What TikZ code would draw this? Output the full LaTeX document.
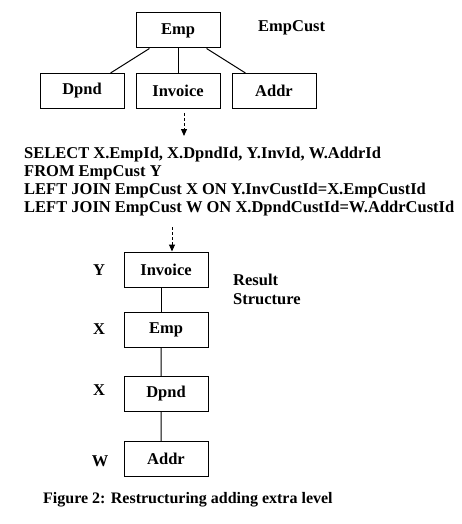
\documentclass[tikz,border=0pt]{standalone}
\usepackage{fontspec}
\setmainfont{Liberation Serif}
\usetikzlibrary{arrows.meta}
\tikzset{
  box/.style={draw, line width=1pt, minimum width=84pt, minimum height=35pt, inner sep=0pt},
  lbl/.style={inner sep=0pt},
  flow/.style={dashed, dash pattern=on 3pt off 2pt, line width=1pt, -{Triangle[length=7pt,width=6pt]}}
}
\begin{document}
\begin{tikzpicture}[x=1pt,y=1pt,font=\fontsize{16.5}{18}\selectfont\bfseries,edge from parent/.style={draw,line width=1pt}]
\useasboundingbox (0,0) rectangle (462,-524);
% source table
\node[box] (emp) at (178,-30.5) {Emp}
 [sibling distance=96pt, level distance=60.5pt]
 child { node[box] (dpnd) {Dpnd} }
 child { node[box] (inv) {Invoice} }
 child { node[box] (addr) {Addr} };
\node[lbl, anchor=base west] (tbl) at (258,-31.7) {EmpCust};
% query
\node[lbl, anchor=north west, inner ysep=11pt, align=left] (sql) at (24,-136)
 {SELECT X.EmpId, X.DpndId, Y.InvId, W.AddrId\\
  FROM EmpCust Y\\
  LEFT JOIN EmpCust X ON Y.InvCustId=X.EmpCustId\\
  LEFT JOIN EmpCust W ON X.DpndCustId=W.AddrCustId};
\draw[flow] ([xshift=6pt,yshift=-4pt]inv.south) -- ([xshift=6pt]inv.south |- sql.north);
% result
\node[box] (rinv) at (166,-269.5) {Invoice}
 [edge from parent path={([xshift=-5pt]\tikzparentnode.south) -- ([xshift=-5pt]\tikzchildnode.north)}]
 child[level distance=60pt] { node[box] (remp) {Emp}
   child[level distance=64.5pt] { node[box] (rdpnd) {Dpnd}
     child[level distance=65pt] { node[box] (raddr) {Addr} } } };
\draw[flow] ([xshift=6pt]rinv.north |- sql.south) -- ([xshift=6pt]rinv.north);
\node[lbl] (ly) at (99,-270) {Y};
\node[lbl] (lx1) at (99,-329) {X};
\node[lbl] (lx2) at (99,-390) {X};
\node[lbl] (lw) at (100,-461) {W};
\node[lbl, anchor=west, align=left, font=\fontsize{16.5}{19}\selectfont\bfseries] (res) at (233,-289.5) {Result\\Structure};
\node[lbl, anchor=base west, font=\fontsize{16}{18}\selectfont\bfseries] (cap) at (43,-503) {Figure 2: Restructuring adding extra level};
\end{tikzpicture}
\end{document}
